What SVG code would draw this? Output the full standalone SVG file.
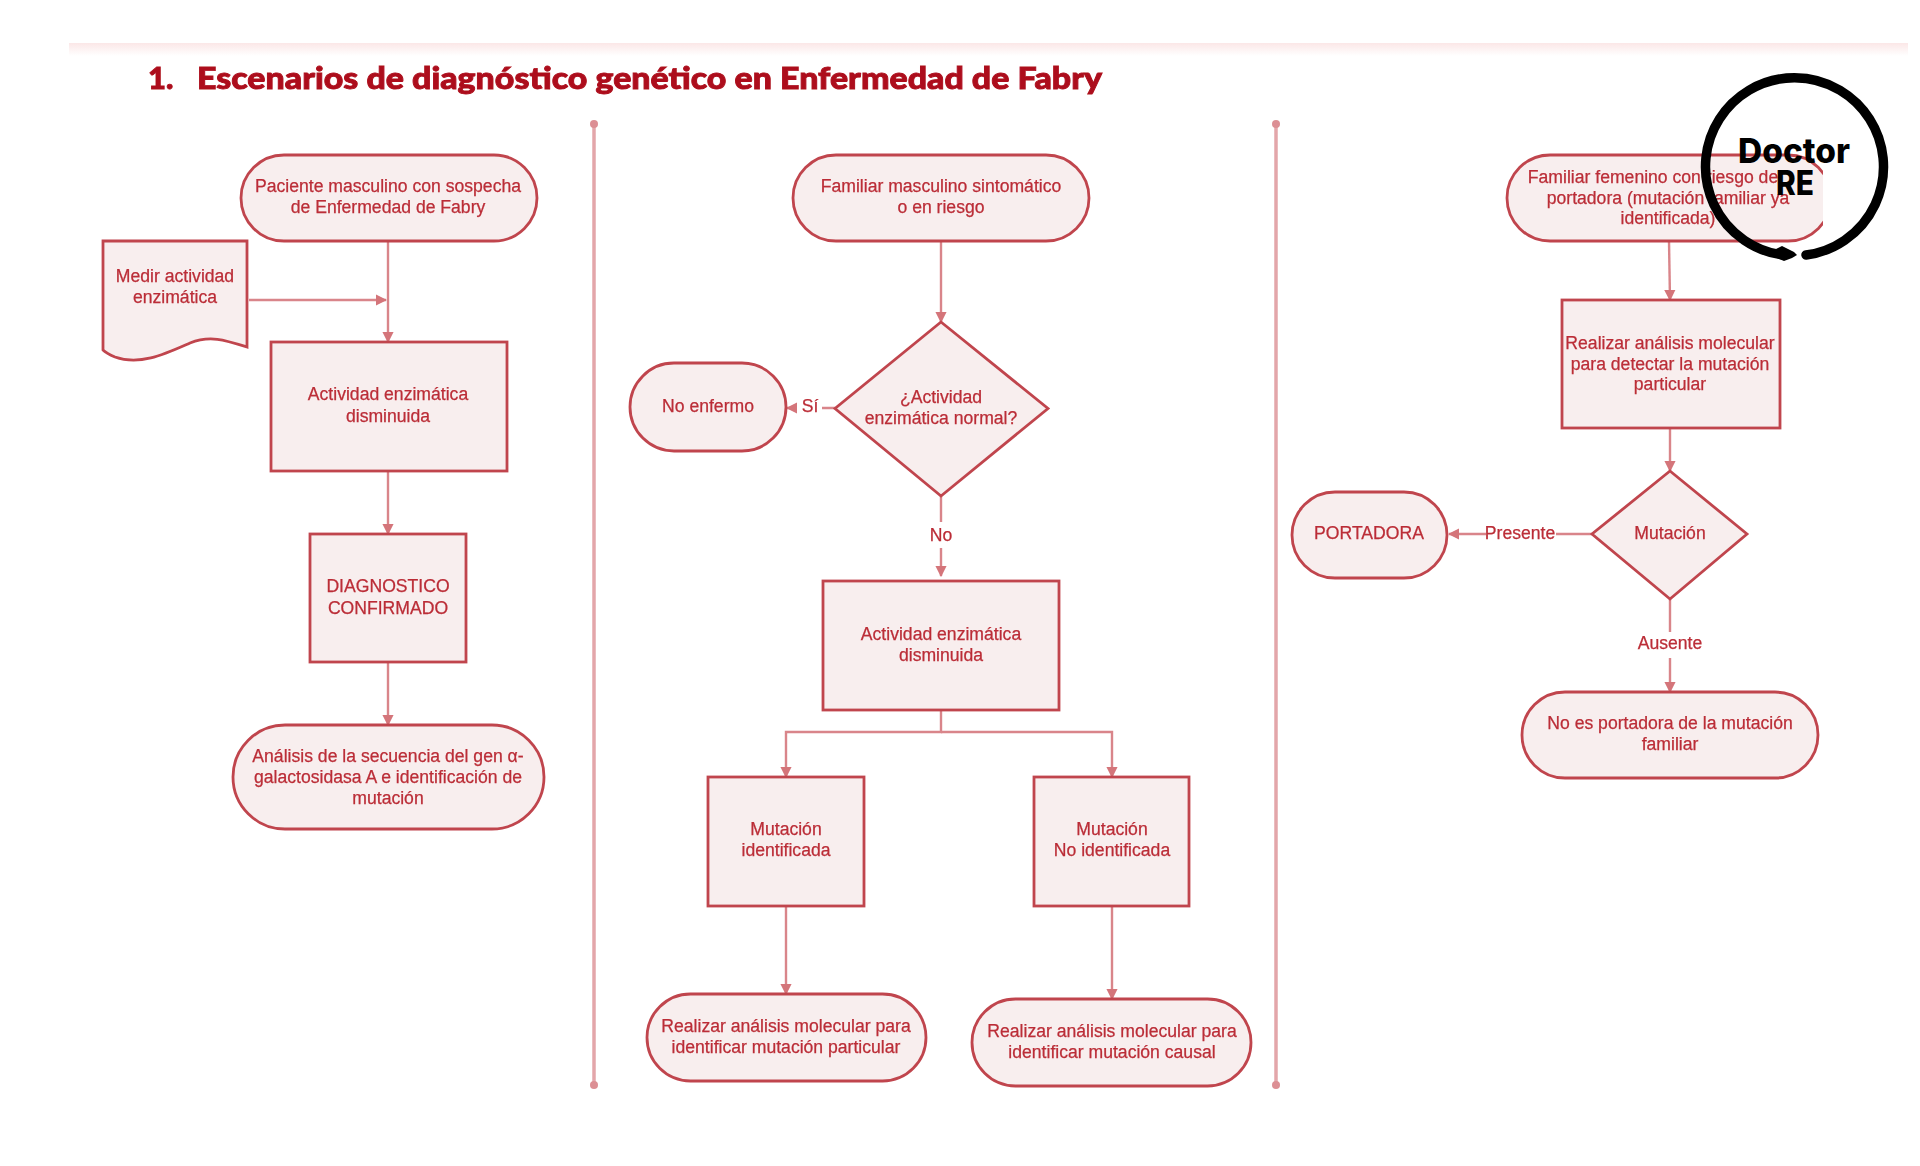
<svg xmlns="http://www.w3.org/2000/svg" width="1920" height="1166" viewBox="0 0 1920 1166">
<style>
.n{fill:#f8eeee;stroke:#c0454d;stroke-width:2.800}
.t{font-family:"Liberation Sans",Arial,sans-serif;font-size:17.600px;fill:#bb2d37;text-anchor:middle;stroke:#bb2d37;stroke-width:0.250}
.c{fill:none;stroke:#d9858a;stroke-width:2.400}
.d{stroke:#e3a6aa;stroke-width:3.500}
.dot{fill:#dc8f94}
.lg{font-family:Inter,"Liberation Sans",sans-serif;font-weight:800;font-size:34px;text-anchor:middle;fill:#000}
</style>
<defs>
<marker id="a" viewBox="0 0 10 10" refX="9" refY="5" markerWidth="4.800" markerHeight="4.800" orient="auto"><path d="M0 0L10 5L0 10z" fill="#d4747a"/></marker>
<linearGradient id="band" x1="0" y1="0" x2="0" y2="1"><stop offset="0" stop-color="#fbe7e7"/><stop offset="1" stop-color="#fff"/></linearGradient>
<filter id="soft" x="-2%" y="-2%" width="104%" height="104%"><feGaussianBlur stdDeviation="0.650"/></filter>
</defs>
<rect width="1920" height="1166" fill="#fff"/>
<g filter="url(#soft)">
<rect id="band-top" x="69" y="43" width="1839" height="13" fill="url(#band)"/>
<text id="title" y="89" font-family="Lato,'Open Sans',sans-serif" font-weight="900" font-size="31" fill="#ad101c" stroke="#ad101c" stroke-width="0.900"><tspan x="148">1.</tspan> <tspan x="197" textLength="905" lengthAdjust="spacingAndGlyphs">Escenarios de diagnóstico genético en Enfermedad de Fabry</tspan></text>
<g id="dividers">
<line class="d" x1="594" y1="124" x2="594" y2="1085"/><circle class="dot" cx="594" cy="124" r="4"/><circle class="dot" cx="594" cy="1085" r="4"/>
<line class="d" x1="1276" y1="124" x2="1276" y2="1085"/><circle class="dot" cx="1276" cy="124" r="4"/><circle class="dot" cx="1276" cy="1085" r="4"/>
</g>
<g id="connectors">
<path class="c" d="M388 241V342" marker-end="url(#a)"/>
<path class="c" d="M249 300H386" marker-end="url(#a)"/>
<path class="c" d="M388 471V534" marker-end="url(#a)"/>
<path class="c" d="M388 662V725" marker-end="url(#a)"/>
<path class="c" d="M941 241V322" marker-end="url(#a)"/>
<path class="c" d="M835 408H822M797 408H787" marker-end="url(#a)"/>
<path class="c" d="M941 496V522M941 548V576" marker-end="url(#a)"/>
<path class="c" d="M941 710V732H786V777" marker-end="url(#a)"/>
<path class="c" d="M941 732H1112V777" marker-end="url(#a)"/>
<path class="c" d="M786 906V994" marker-end="url(#a)"/>
<path class="c" d="M1112 906V999" marker-end="url(#a)"/>
<path class="c" d="M1669 241L1670 300" marker-end="url(#a)"/>
<path class="c" d="M1670 428V471" marker-end="url(#a)"/>
<path class="c" d="M1592 534H1556M1486 534H1449" marker-end="url(#a)"/>
<path class="c" d="M1670 599V632M1670 658V692" marker-end="url(#a)"/>
</g>
<g id="n1"><rect class="n" x="241" y="155" width="296" height="86" rx="43"/><text class="t" x="388" y="192">Paciente masculino con sospecha</text><text class="t" x="388" y="213">de Enfermedad de Fabry</text></g>
<g id="n2"><path class="n" d="M103 241H247V347C225 340 210 335 190 343C165 354 140 366 115 357C108 354 105 352 103 350Z"/><text class="t" x="175" y="282">Medir actividad</text><text class="t" x="175" y="303">enzimática</text></g>
<g id="n3"><rect class="n" x="271" y="342" width="236" height="129"/><text class="t" x="388" y="400">Actividad enzimática</text><text class="t" x="388" y="422">disminuida</text></g>
<g id="n4"><rect class="n" x="310" y="534" width="156" height="128"/><text class="t" x="388" y="592">DIAGNOSTICO</text><text class="t" x="388" y="614">CONFIRMADO</text></g>
<g id="n5"><rect class="n" x="233" y="725" width="311" height="104" rx="52"/><text class="t" x="388" y="762">Análisis de la secuencia del gen α-</text><text class="t" x="388" y="783">galactosidasa A e identificación de</text><text class="t" x="388" y="804">mutación</text></g>
<g id="n6"><rect class="n" x="793" y="155" width="296" height="86" rx="43"/><text class="t" x="941" y="192">Familiar masculino sintomático</text><text class="t" x="941" y="213">o en riesgo</text></g>
<g id="n7"><path class="n" d="M941 322L1048 408.500L941 496L835 408.500Z"/><text class="t" x="941" y="403">¿Actividad</text><text class="t" x="941" y="424">enzimática normal?</text></g>
<g id="n8"><rect class="n" x="630" y="363" width="156" height="88" rx="44"/><text class="t" x="708" y="412">No enfermo</text></g>
<text class="t" x="810" y="412">Sí</text>
<text class="t" x="941" y="541">No</text>
<g id="n9"><rect class="n" x="823" y="581" width="236" height="129"/><text class="t" x="941" y="640">Actividad enzimática</text><text class="t" x="941" y="661">disminuida</text></g>
<g id="n10"><rect class="n" x="708" y="777" width="156" height="129"/><text class="t" x="786" y="835">Mutación</text><text class="t" x="786" y="856">identificada</text></g>
<g id="n11"><rect class="n" x="1034" y="777" width="155" height="129"/><text class="t" x="1112" y="835">Mutación</text><text class="t" x="1112" y="856">No identificada</text></g>
<g id="n12"><rect class="n" x="647" y="994" width="279" height="87" rx="43.500"/><text class="t" x="786" y="1032">Realizar análisis molecular para</text><text class="t" x="786" y="1053">identificar mutación particular</text></g>
<g id="n13"><rect class="n" x="972" y="999" width="279" height="87" rx="43.500"/><text class="t" x="1112" y="1037">Realizar análisis molecular para</text><text class="t" x="1112" y="1058">identificar mutación causal</text></g>
<g id="n14"><rect class="n" x="1507" y="155" width="324" height="86" rx="43"/><rect x="1823" y="140" width="20" height="110" fill="#fff"/><text class="t" x="1653" y="183">Familiar femenino con riesgo de</text><text class="t" x="1668" y="204">portadora (mutación familiar ya</text><text class="t" x="1668" y="224">identificada)</text></g>
<g id="n15"><rect class="n" x="1562" y="300" width="218" height="128"/><text class="t" x="1670" y="349">Realizar análisis molecular</text><text class="t" x="1670" y="370">para detectar la mutación</text><text class="t" x="1670" y="390">particular</text></g>
<g id="n16"><path class="n" d="M1670 471L1747 534L1670 599L1592 534Z"/><text class="t" x="1670" y="539">Mutación</text></g>
<g id="n17"><rect class="n" x="1292" y="492" width="155" height="86" rx="43"/><text class="t" x="1369" y="539">PORTADORA</text></g>
<text class="t" x="1520" y="539">Presente</text>
<text class="t" x="1670" y="649">Ausente</text>
<g id="n18"><rect class="n" x="1522" y="692" width="296" height="86" rx="43"/><text class="t" x="1670" y="729">No es portadora de la mutación</text><text class="t" x="1670" y="750">familiar</text></g>
</g>
<g id="logo">
<path d="M1806 255A89 89 0 1 0 1783 255" fill="none" stroke="#000" stroke-width="9.500" stroke-linecap="round"/>
<path d="M1774 250L1782 246L1794 252L1797 255L1792 258L1784 261L1777 258Z" fill="#000"/>
<text class="lg" x="1794" y="163" textLength="112" lengthAdjust="spacingAndGlyphs">Doctor</text>
<text class="lg" x="1795" y="195" textLength="38" lengthAdjust="spacingAndGlyphs">RE</text>
</g>
</svg>
